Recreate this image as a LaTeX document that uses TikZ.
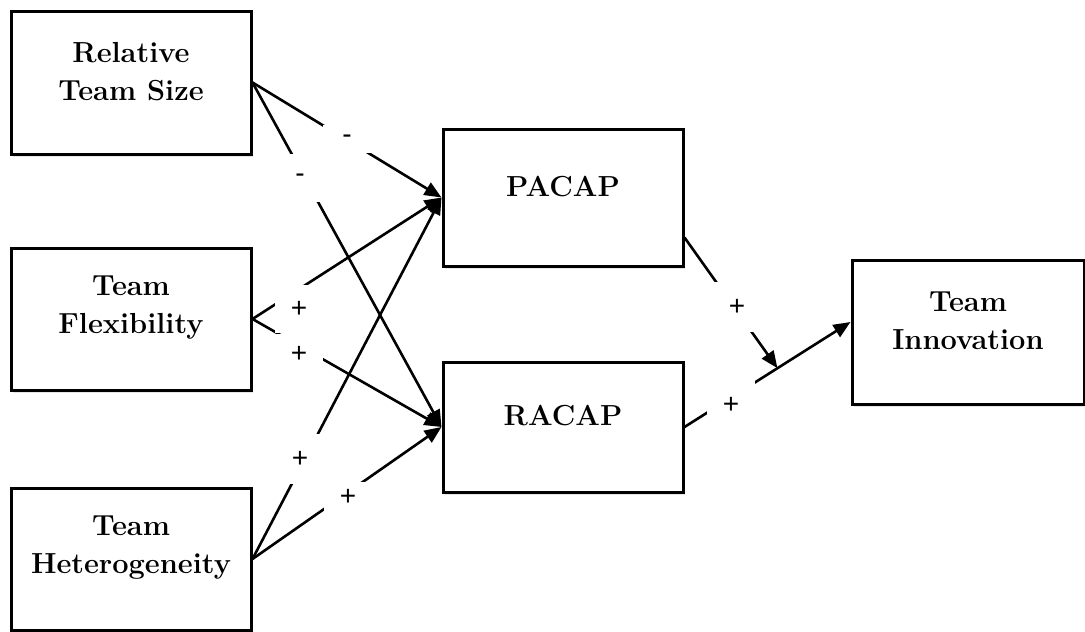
\documentclass[tikz,border=0pt]{standalone}
\usepackage{fontspec}
\newfontfamily\lblfont{Liberation Sans}
\usetikzlibrary{arrows.meta,shadows,calc}

\begin{document}
\begin{tikzpicture}[x=1pt,y=-1pt]
        \useasboundingbox (0,0) rectangle (1085,632);
        \begin{scope}
            \begin{scope}[every node/.style={draw,line width=3pt,fill=white,
                    drop shadow={opacity=0.2,shadow xshift=2pt,shadow yshift=-3pt}}]
              \node[minimum width=240pt,minimum height=143pt] (a) at (131,82.5) {};
              \node[minimum width=240pt,minimum height=142pt] (b) at (131,319) {};
              \node[minimum width=240pt,minimum height=142pt] (c) at (131,559) {};
              \node[minimum width=240pt,minimum height=137pt] (d) at (563,197.5) {};
              \node[minimum width=240pt,minimum height=130pt] (e) at (563,427) {};
              \node[minimum width=232pt,minimum height=144pt] (f) at (968,332) {};
            \end{scope}
            \begin{scope}[every node/.style={align=center,font=\fontsize{29}{38}\selectfont\bfseries}]
              \node (at) at ([yshift=11pt]a.center) {Relative\\Team Size};
              \node (bt) at ([yshift=11pt]b.center) {Team\\Flexibility};
              \node (ct) at ([yshift=11pt]c.center) {Team\\Heterogeneity};
              \node (dt) at ([yshift=11pt]d.center) {PACAP};
              \node (et) at ([yshift=11pt]e.center) {RACAP};
              \node (ft) at ([yshift=11pt]f.center) {Team\\Innovation};
            \end{scope}
            \coordinate (m) at ($(e.east)!0.56!([yshift=10pt]f.west)$);
            \begin{scope}[every edge/.style={draw=black,line width=2.6pt,-{Triangle[length=17pt,width=14pt]}}]
                \path (a.east) edge (d.west)
                      (a.east) edge (e.west)
                      (b.east) edge (d.west)
                      (b.east) edge (e.west)
                      (c.east) edge (d.west)
                      (c.east) edge (e.west)
                      ([yshift=-40pt]d.east) edge (m)
                      (e.east) edge ([yshift=10pt]f.west);
            \end{scope}
            \begin{scope}[every node/.style={fill=white,inner sep=0pt,minimum width=48pt,
                    font=\lblfont\fontsize{28}{28}\selectfont}]
              \node[minimum height=28pt] (l1) at (347,139) {-};
              \node[minimum height=48pt] (l2) at (300,178) {-};
              \node[minimum height=48pt] (l3) at (299,309) {+};
              \node[minimum height=40pt] (l4) at (299,354) {+};
              \node[minimum height=50pt] (l5) at (300,459) {+};
              \node[minimum height=31pt] (l6) at (348,497) {+};
              \node[minimum height=50pt] (l7) at (737,307) {+};
              \node[minimum height=50pt] (l8) at (731,405) {+};
            \end{scope}
        \end{scope}
    \end{tikzpicture}
\end{document}
